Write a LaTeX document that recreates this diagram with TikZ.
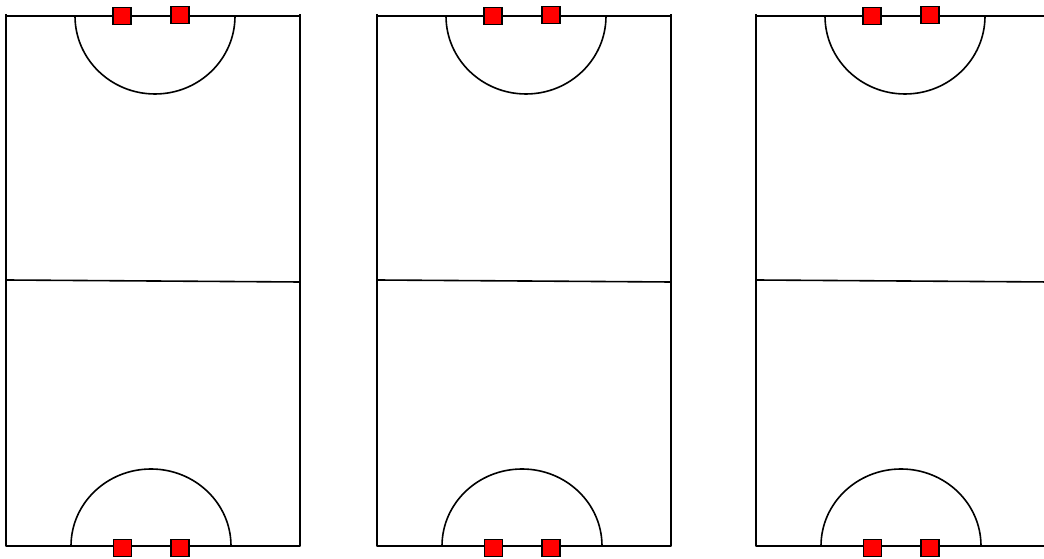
\documentclass[tikz,border=0pt]{standalone}
\usetikzlibrary{positioning}

\tikzset{
  fieldline/.style={line width=1.6pt, line join=round},
  goalpost/.style={draw=black, line width=1.2pt, fill=red, minimum width=18pt, minimum height=17pt, inner sep=0pt}
}

\begin{document}
\begin{tikzpicture}[x=1pt, y=1pt]
    \useasboundingbox (0,0) rectangle (1044,559);
    \clip (0,0) rectangle (1044,559);
    \foreach \dx/\nm in {0/a, 371/b, 750/c} {
      \begin{scope}[xshift=\dx pt]
        % outline and middle line
        \draw[fieldline] (6,545) -- (6,13) -- (300,13) -- (300,545);
        \draw[fieldline] (6,543) -- (300,543);
        \draw[fieldline] (6,279) -- (300,277);
        % goal areas
        \draw[fieldline] (75,543) arc[start angle=180, end angle=360, x radius=80, y radius=78];
        \draw[fieldline] (71,13) arc[start angle=180, end angle=0, x radius=80, y radius=77];
        % goal posts
        \node[goalpost] (\nm-tl) at (122,543) {};
        \node[goalpost] (\nm-tr) at (180,544) {};
        \node[goalpost] (\nm-bl) at (122.5,11) {};
        \node[goalpost] (\nm-br) at (180,11) {};
      \end{scope}
    }
  \end{tikzpicture}
\end{document}
